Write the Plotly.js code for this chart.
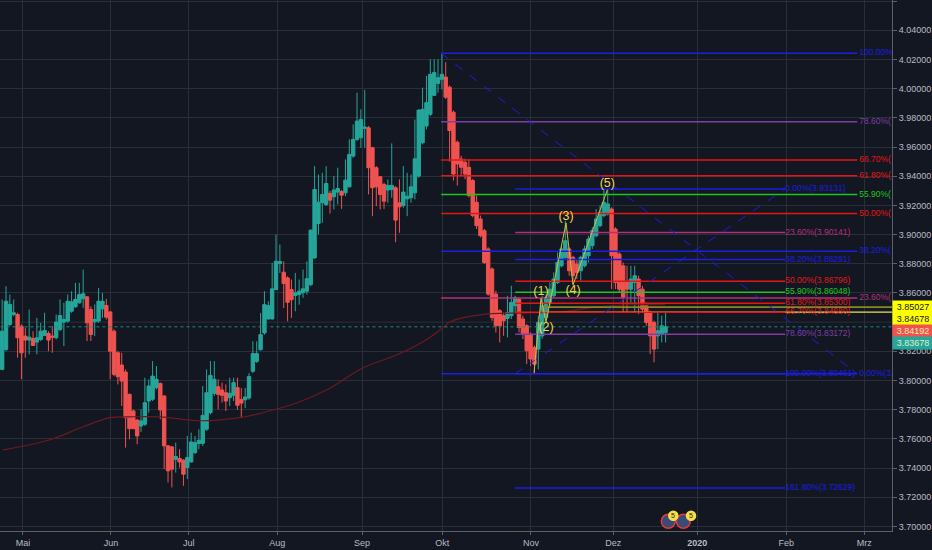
<!DOCTYPE html>
<html><head><meta charset="utf-8">
<script src="https://cdn.plot.ly/plotly-3.0.1.min.js"></script>
<style>html,body{margin:0;padding:0;background:#131722;}#chart{width:932px;height:550px;}</style>
</head><body><div id="chart"></div>
<script>
// ---- daily candles (bar index 0..172, late Apr 2019 -> mid Dec 2019) ----
const openP = [3.8076,3.8213,3.8384,3.8452,3.8452,3.8372,3.8304,3.8277,3.8288,3.8263,
3.8281,3.8309,3.8322,3.8304,3.8293,3.8350,3.8400,3.8407,3.8475,3.8505,
3.8532,3.8560,3.8573,3.8486,3.8402,3.8407,3.8491,3.8514,3.8470,3.8338,
3.8190,3.8106,3.8058,3.7905,3.7791,3.7729,3.7688,3.7700,3.7859,3.7871,
3.7951,3.7980,3.7894,3.7552,3.7545,3.7460,3.7465,3.7454,3.7403,3.7442,
3.7506,3.7568,3.7570,3.7666,3.7780,3.7912,3.7957,3.7935,3.7916,3.7882,
3.7898,3.7951,3.7870,3.7868,3.7880,3.8063,3.8131,3.8211,3.8326,3.8422,
3.8422,3.8623,3.8801,3.8742,3.8703,3.8623,3.8582,3.8589,3.8601,3.8612,
3.8657,3.8840,3.9076,3.9218,3.9206,3.9282,3.9259,3.9291,3.9295,3.9286,
3.9327,3.9538,3.9652,3.9664,3.9728,3.9732,3.9595,3.9458,3.9396,3.9343,
3.9305,3.9309,3.9321,3.9218,3.9199,3.9245,3.9252,3.9286,3.9401,3.9629,
3.9744,3.9824,3.9954,4.0036,4.0064,4.0079,4.0010,3.9838,3.9633,3.9518,
3.9495,3.9461,3.9370,3.9221,3.9107,3.9027,3.8901,3.8764,3.8592,3.8478,
3.8444,3.8425,3.8444,3.8512,3.8558,3.8421,3.8375,3.8318,3.8227,3.8215,
3.8306,3.8432,3.8535,3.8581,3.8672,3.8786,3.8844,3.8901,3.8844,3.8798,
3.8752,3.8786,3.8855,3.8924,3.8992,3.9061,3.9130,3.9141,3.9175,3.9038,
3.8867,3.8786,3.8672,3.8626,3.8672,3.8695,3.8626,3.8512,3.8466,3.8398,
3.8306,3.8318,3.8329];
const highP = [3.8555,3.8646,3.8589,3.8555,3.8464,3.8384,3.8361,3.8486,3.8338,3.8429,
3.8395,3.8464,3.8338,3.8372,3.8452,3.8555,3.8532,3.8589,3.8612,3.8669,
3.8669,3.8760,3.8578,3.8509,3.8521,3.8635,3.8600,3.8560,3.8475,3.8350,
3.8201,3.8190,3.8076,3.7910,3.7802,3.7734,3.7802,3.8019,3.8008,3.8133,
3.8099,3.7985,3.7898,3.7556,3.7552,3.7574,3.7529,3.7460,3.7620,3.7643,
3.7620,3.7666,3.7962,3.8076,3.8133,3.8133,3.8008,3.7985,3.7973,3.8019,
3.8019,3.8019,3.7948,3.7948,3.8051,3.8269,3.8269,3.8463,3.8612,3.8543,
3.8806,3.9000,3.8932,3.8817,3.8714,3.8692,3.8737,3.8692,3.8760,3.8817,
3.9035,3.9469,3.9412,3.9423,3.9469,3.9298,3.9401,3.9458,3.9305,3.9515,
3.9652,3.9755,3.9972,3.9858,3.9991,3.9744,3.9602,3.9469,3.9401,3.9355,
3.9378,3.9625,3.9332,3.9378,3.9469,3.9423,3.9412,3.9789,3.9858,4.0007,
4.0087,4.0201,4.0201,4.0201,4.0242,4.0182,4.0021,3.9850,3.9644,3.9540,
3.9520,3.9518,3.9381,3.9267,3.9130,3.9038,3.8913,3.8775,3.8615,3.8489,
3.8466,3.8581,3.8649,3.8581,3.8569,3.8444,3.8386,3.8329,3.8240,3.8444,
3.8581,3.8592,3.8672,3.8741,3.8878,3.8924,3.9095,3.8913,3.8855,3.8832,
3.8855,3.8924,3.8992,3.9050,3.9175,3.9198,3.9313,3.9313,3.9187,3.9050,
3.8878,3.8809,3.8786,3.8786,3.8786,3.8718,3.8649,3.8535,3.8478,3.8409,
3.8466,3.8444,3.8466];
const lowP = [3.8070,3.8201,3.8372,3.8440,3.8156,3.8008,3.8156,3.8179,3.8236,3.8179,
3.8270,3.8304,3.8201,3.8190,3.8281,3.8338,3.8236,3.8395,3.8464,3.8498,
3.8527,3.8498,3.8270,3.8270,3.8304,3.8395,3.8429,3.8418,3.8008,3.8030,
3.7973,3.7825,3.7540,3.7597,3.7666,3.7563,3.7647,3.7688,3.7780,3.7859,
3.7939,3.7734,3.7392,3.7301,3.7267,3.7369,3.7403,3.7278,3.7324,3.7438,
3.7495,3.7529,3.7552,3.7654,3.7768,3.7894,3.7802,3.7848,3.7791,3.7825,
3.7859,3.7800,3.7743,3.7811,3.7868,3.8051,3.8120,3.8205,3.8314,3.8417,
3.8417,3.8620,3.8737,3.8497,3.8406,3.8429,3.8474,3.8520,3.8566,3.8589,
3.8646,3.8836,3.9000,3.9080,3.9195,3.9144,3.9172,3.9206,3.9176,3.9263,
3.9323,3.9526,3.9641,3.9595,3.9595,3.9275,3.9126,3.9195,3.9172,3.9176,
3.9218,3.9252,3.8948,3.9012,3.9183,3.9126,3.9218,3.9241,3.9389,3.9618,
3.9721,3.9812,3.9949,3.9972,3.9995,3.9930,3.9500,3.9370,3.9335,3.9400,
3.9380,3.9255,3.9118,3.9038,3.8981,3.8798,3.8581,3.8409,3.8329,3.8261,
3.8306,3.8295,3.8421,3.8466,3.8329,3.8284,3.8112,3.8100,3.8046,3.8077,
3.8284,3.8421,3.8512,3.8569,3.8661,3.8775,3.8832,3.8718,3.8661,3.8695,
3.8684,3.8775,3.8809,3.8901,3.8981,3.9050,3.9118,3.9130,3.8626,3.8626,
3.8604,3.8466,3.8466,3.8535,3.8466,3.8455,3.8466,3.8375,3.8181,3.8124,
3.8215,3.8261,3.8261];
const closeP = [3.8338,3.8543,3.8521,3.8464,3.8293,3.8190,3.8277,3.8297,3.8240,3.8293,
3.8338,3.8343,3.8277,3.8297,3.8400,3.8445,3.8418,3.8543,3.8539,3.8555,
3.8589,3.8594,3.8395,3.8315,3.8418,3.8543,3.8543,3.8434,3.8201,3.8042,
3.8026,3.7996,3.7745,3.7670,3.7670,3.7620,3.7723,3.7848,3.7962,3.8030,
3.8008,3.7798,3.7552,3.7381,3.7392,3.7479,3.7442,3.7358,3.7472,3.7579,
3.7574,3.7590,3.7761,3.7916,3.8035,3.8008,3.7905,3.7898,3.7859,3.7912,
3.7985,3.7830,3.7845,3.7887,3.8028,3.8184,3.8184,3.8314,3.8520,3.8513,
3.8628,3.8817,3.8815,3.8664,3.8536,3.8554,3.8601,3.8612,3.8628,3.8698,
3.9030,3.9309,3.9222,3.9275,3.9350,3.9236,3.9305,3.9316,3.9270,3.9373,
3.9549,3.9652,3.9778,3.9789,3.9737,3.9458,3.9321,3.9327,3.9275,3.9229,
3.9337,3.9337,3.9099,3.9190,3.9291,3.9263,3.9327,3.9519,3.9853,3.9858,
3.9904,4.0098,4.0110,4.0075,4.0098,3.9941,3.9713,3.9415,3.9484,3.9461,
3.9415,3.9267,3.9130,3.9061,3.8992,3.8809,3.8592,3.8432,3.8375,3.8375,
3.8409,3.8466,3.8535,3.8569,3.8363,3.8318,3.8204,3.8147,3.8112,3.8398,
3.8512,3.8569,3.8626,3.8695,3.8809,3.8901,3.8958,3.8752,3.8718,3.8741,
3.8844,3.8901,3.8969,3.9027,3.9107,3.9152,3.9221,3.9210,3.8855,3.8672,
3.8626,3.8569,3.8626,3.8695,3.8718,3.8581,3.8489,3.8398,3.8306,3.8215,
3.8341,3.8375,3.8368];

// month tick positions (in bar units) and labels
const monthTickPos = [5.4, 28.2, 48.4, 71.3, 93.3, 114.1, 137.1, 158.4, 180.2, 203.3, 223.5];
const monthTickText = ['Mai','Jun','Jul','Aug','Sep','Okt','Nov','Dez','<b>2020</b>','Feb','Mrz'];

// price axis ticks (3.84000 sits under the price tags)
const priceTicks = [3.70,3.72,3.74,3.76,3.78,3.80,3.82,3.86,3.88,3.90,3.92,3.94,3.96,3.98,4.00,4.02,4.04,4.06];
const priceGrid = [3.84];

// moving average
const maIdx = [0.2,12.4,21.0,28.0,33.1,40.9,51.3,61.7,67.6,76.5,84.2,93.6,102.4,109.1,114.3,116.1,123.9,136.9,145.4,154.3,162.8,171.9];
const maVal = [3.7525,3.7594,3.7683,3.7745,3.7751,3.7751,3.7724,3.7745,3.7779,3.7847,3.7936,3.8087,3.8176,3.8265,3.8361,3.8402,3.8450,3.8464,3.8471,3.8505,3.8519,3.8519];

// Fibonacci set A (Oct high -> Nov low); its labels are cut by the price scale
const fibALevels = ['0.00%','23.60%','38.20%','50.00%','55.90%','61.80%','66.70%','78.60%','100.00%'];
const fibAPrices = [3.80461,3.85646,3.88853,3.91445,3.92741,3.94038,3.95114,3.97729,4.02424];
const fibAVisibleText = ['0.00%(3.','23.60%(','38.20%(','50.00%(','55.90%(','61.80%(','66.70%(','78.60%(','100.00%('];
// Fibonacci set B (Nov low -> Nov high)
const fibBLevels = ['0.00%','23.60%','38.20%','50.00%','55.90%','61.80%','66.70%','78.60%','100.00%','161.80%'];
const fibBPrices = [3.93131,3.90141,3.88291,3.86796,3.86048,3.85300,3.84680,3.83172,3.80461,3.72629];

// Elliott wave points and labels
const waveIdx = [137.9,139.7,141.0,146.2,148.0,156.9];
const waveVal = [3.8053,3.8564,3.8400,3.9080,3.8655,3.9306];
const waveLabels = ['(1)','(2)','(3)','(4)','(5)'];

// horizontal price lines / tags
const lastPrice = 3.83678;
const hLine1 = 3.85027;
const hLine2 = 3.84678;
const tagPrices = ['3.85027','3.84678','3.84192','3.83678'];

// ---------------- drawing ----------------
const FONT = 'Liberation Sans, Arial, sans-serif';
const BLUE='#1c1ee0', RED='#e31616', GREEN='#1fc41f', PURPLE='#7e3ea6', PINK='#b52f7d';
const colorFor = lvl => ({'0.00%':BLUE,'23.60%':PINK,'38.20%':BLUE,'50.00%':RED,'55.90%':GREEN,
  '61.80%':RED,'66.70%':RED,'78.60%':PURPLE,'100.00%':BLUE,'161.80%':BLUE})[lvl];

const barIdx = openP.map((_, i) => i);
const traces = [];
traces.push({type:'candlestick', x:barIdx, open:openP, high:highP, low:lowP, close:closeP,
  increasing:{line:{color:'#26a69a',width:1}, fillcolor:'#26a69a'},
  decreasing:{line:{color:'#ef5350',width:1}, fillcolor:'#ef5350'},
  whiskerwidth:0, hoverinfo:'skip', showlegend:false});
traces.push({type:'scatter', mode:'lines', x:maIdx, y:maVal, line:{color:'#6a1a20', width:1.2, shape:'spline'}, hoverinfo:'skip', showlegend:false});
traces.push({type:'scatter', mode:'lines', x:[-2,235], y:[lastPrice,lastPrice], line:{color:'#1f8a80', width:1, dash:'dot'}, hoverinfo:'skip', showlegend:false});
traces.push({type:'scatter', mode:'lines', x:[140,235], y:[hLine1,hLine1], line:{color:'#8a8628', width:1.6}, hoverinfo:'skip', showlegend:false});
traces.push({type:'scatter', mode:'lines', x:[140,235], y:[hLine2,hLine2], line:{color:'#e4e45a', width:1.2}, hoverinfo:'skip', showlegend:false});

const aStart = 113.8, aEnd = 221.7, bStart = 133.0, bEnd = 203.0;
fibAPrices.forEach((p, k) => traces.push({type:'scatter', mode:'lines', x:[aStart,aEnd], y:[p,p],
  line:{color:colorFor(fibALevels[k]), width:1.5}, hoverinfo:'skip', showlegend:false}));
fibBPrices.forEach((p, k) => traces.push({type:'scatter', mode:'lines', x:[bStart,bEnd], y:[p,p],
  line:{color:colorFor(fibBLevels[k]), width:1.5}, hoverinfo:'skip', showlegend:false}));
// diagonal trend lines of the fib tools
traces.push({type:'scatter', mode:'lines', x:[aStart,aEnd], y:[fibAPrices[8], fibAPrices[0]], line:{color:BLUE, width:1, dash:'dash'}, hoverinfo:'skip', showlegend:false});
traces.push({type:'scatter', mode:'lines', x:[bStart,bEnd], y:[fibBPrices[8], fibBPrices[0]], line:{color:BLUE, width:1, dash:'dash'}, hoverinfo:'skip', showlegend:false});
// fib labels
traces.push({type:'scatter', mode:'text', x:fibAPrices.map(()=>aEnd+0.5), y:fibAPrices,
  text:fibAVisibleText, textposition:'middle right',
  textfont:{family:FONT, size:8.5, color:fibALevels.map(colorFor)}, cliponaxis:true, hoverinfo:'skip', showlegend:false});
traces.push({type:'scatter', mode:'text', x:fibBPrices.map(()=>bEnd), y:fibBPrices,
  text:fibBLevels.map((l,k)=>l+'('+fibBPrices[k].toFixed(5)+')'), textposition:'middle right',
  textfont:{family:FONT, size:8.5, color:fibBLevels.map(colorFor)}, cliponaxis:true, hoverinfo:'skip', showlegend:false});
// Elliott wave
traces.push({type:'scatter', mode:'lines', x:waveIdx, y:waveVal, line:{color:'#cdbb45', width:1}, hoverinfo:'skip', showlegend:false});
traces.push({type:'scatter', mode:'text', x:waveIdx.slice(1), y:waveVal.slice(1), text:waveLabels,
  textposition:['top center','bottom center','top center','bottom center','top center'],
  textfont:{family:FONT, size:12.5, color:'#f2d64b'}, hoverinfo:'skip', showlegend:false});

const tagStyle = [['#ffff00','#131722',3.8503],['#ffff00','#131722',3.84226],['#ef5350','#f3e7b4',3.8340],['#26a69a','#dfeec8',3.82600]];
const annotations = tagPrices.map((t,k)=>({xref:'paper', x:1, xanchor:'left', yref:'y', y:tagStyle[k][2], yanchor:'middle',
  text:t, showarrow:false, bgcolor:tagStyle[k][0], font:{family:FONT, size:9, color:tagStyle[k][1]},
  width:38, height:10, borderpad:1, align:'center'}));
annotations.push({xref:'x', x:174.0, yref:'y', y:3.7073, text:'5', showarrow:false, font:{family:FONT,size:7,color:'#222'}});
annotations.push({xref:'x', x:178.6, yref:'y', y:3.7073, text:'5', showarrow:false, font:{family:FONT,size:7,color:'#222'}});

const badge = (xc, yc, r, fill, line) => ({type:'circle', xref:'x', yref:'y', xsizemode:'pixel', ysizemode:'pixel',
  xanchor:xc, yanchor:yc, x0:-r, x1:r, y0:-r, y1:r, fillcolor:fill, line:{color:line, width:1.5}, layer:'above'});
const shapes = [badge(172.7,3.7035,7,'#3b4b78','#e53935'), badge(176.6,3.7035,7,'#3b4b78','#e53935'),
  badge(174.0,3.7073,4.5,'#f5e04a','#f5e04a'), badge(178.6,3.7073,4.5,'#f5e04a','#f5e04a')];
priceGrid.forEach(p => shapes.push({type:'line', xref:'paper', x0:0, x1:1, yref:'y', y0:p, y1:p, line:{color:'#2a2e39', width:1}, layer:'below'}));

const layout = {
  width:932, height:550, margin:{l:0, r:40, t:0, b:19},
  paper_bgcolor:'#131722', plot_bgcolor:'#131722', showlegend:false,
  font:{family:FONT, color:'#b2b5be', size:9},
  boxgap:0.12, boxgroupgap:0,
  xaxis:{type:'linear', range:[-0.56, 230.7], tickvals:monthTickPos, ticktext:monthTickText,
    showgrid:true, gridcolor:'#2a2e39', gridwidth:1, zeroline:false, showline:true, linecolor:'#5d606b',
    ticks:'outside', ticklen:3, tickcolor:'#5d606b', tickfont:{size:9, color:'#b8bbc3'},
    rangeslider:{visible:false}, fixedrange:true},
  yaxis:{side:'right', range:[3.69685, 4.06075], tickvals:priceTicks, ticktext:priceTicks.map(v=>v.toFixed(5)),
    showgrid:true, gridcolor:'#2a2e39', gridwidth:1, zeroline:false, showline:true, linecolor:'#5d606b',
    ticks:'outside', ticklen:4, tickcolor:'#5d606b', tickfont:{size:9, color:'#b8bbc3'}, automargin:false, fixedrange:true},
  annotations:annotations, shapes:shapes
};
Plotly.newPlot('chart', traces, layout, {displayModeBar:false, staticPlot:true});
</script></body></html>
